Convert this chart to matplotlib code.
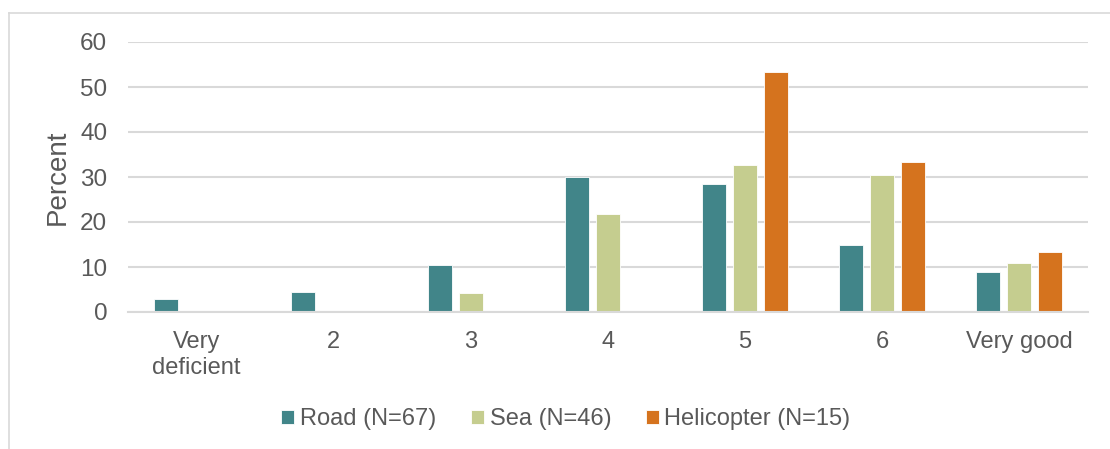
import matplotlib
matplotlib.use("Agg")
import matplotlib.pyplot as plt
import numpy as np
from matplotlib.lines import Line2D

plt.rcParams['font.family'] = ['Liberation Sans', 'DejaVu Sans']

categories = ["Very\ndeficient", "2", "3", "4", "5", "6", "Very good"]
series_names = ["Road (N=67)", "Sea (N=46)", "Helicopter (N=15)"]
road = [3.0, 4.5, 10.4, 29.9, 28.4, 14.9, 9.0]
sea = [0.0, 0.0, 4.3, 21.7, 32.6, 30.4, 10.9]
helicopter = [0.0, 0.0, 0.0, 0.0, 53.3, 33.3, 13.3]
yticks = [0, 10, 20, 30, 40, 50, 60]

colors = ["#418589", "#C5CD8F", "#D5731E"]
text_color = "#595959"
grid_color = "#D9D9D9"
fs = 17

W, H = 1110, 449
fig = plt.figure(figsize=(W / 100, H / 100), dpi=100)
ax = fig.add_axes([128 / W, 1 - 312 / H, (1088 - 128) / W, (312 - 42) / H])

x = np.arange(len(categories))
bw = 0.175
step = 0.226
for i, (vals, name, c) in enumerate(zip([road, sea, helicopter], series_names, colors)):
    ax.bar(x + (i - 1) * step, vals, width=bw, color=c, label=name,
           edgecolor="#FFFFFF", linewidth=0.6, zorder=3)

ax.set_xlim(-0.5, len(categories) - 0.5)
ax.set_ylim(0, 60)
ax.set_yticks(yticks)
ax.set_xticks(x)
ax.set_xticklabels(categories, fontsize=fs, color=text_color, linespacing=1.2)
ax.tick_params(axis='y', length=0, pad=15, labelsize=17.5, labelcolor=text_color)
ax.tick_params(axis='x', length=0, pad=14)
ax.grid(axis='y', color=grid_color, linewidth=1.5, zorder=0)
for s in ["top", "right", "left"]:
    ax.spines[s].set_visible(False)
ax.spines["bottom"].set_color(grid_color)
ax.spines["bottom"].set_linewidth(1.5)
ax.spines["bottom"].set_zorder(4)

ax.set_ylabel("Percent", fontsize=20, color=text_color)
ax.yaxis.set_label_coords((71 - 128) / (1088 - 128), 0.5)

fig.legend(loc="center", bbox_to_anchor=(566 / W, 1 - 419 / H), ncol=3,
           frameon=False, fontsize=fs, labelcolor=text_color,
           handlelength=0.55, handleheight=0.55, handletextpad=0.25,
           columnspacing=1.45)

# outer chart frame
fig.add_artist(Line2D([8.5 / W, 1.0], [1 - 12.5 / H, 1 - 12.5 / H],
                      transform=fig.transFigure, color=grid_color, linewidth=1.2))
fig.add_artist(Line2D([8.5 / W, 8.5 / W], [0.0, 1 - 12.5 / H],
                      transform=fig.transFigure, color=grid_color, linewidth=1.2))

fig.savefig("out.png", dpi=100, facecolor="white")
